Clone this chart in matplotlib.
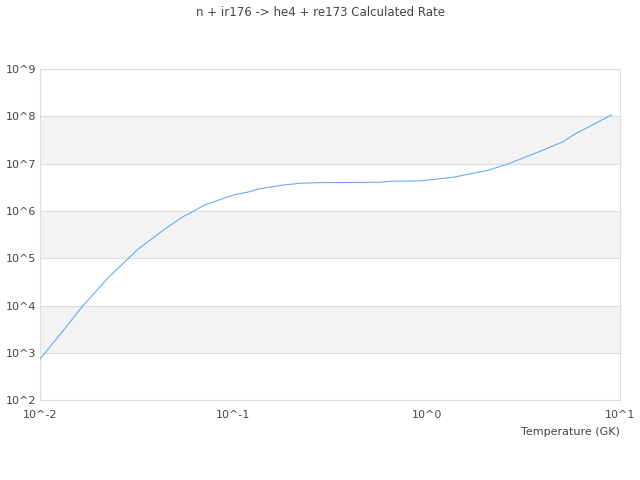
import matplotlib
matplotlib.use("Agg")
import matplotlib.pyplot as plt

# values (temperature in GK, rate)
temperature = [0.01, 0.01285, 0.01663, 0.02239, 0.03206, 0.04487, 0.05495,
               0.0631, 0.07112, 0.08166, 0.1, 0.1216, 0.1318, 0.1811,
               0.2208, 0.2805, 0.5728, 0.6457, 0.9247, 1.374, 2.042, 2.642,
               3.707, 5.082, 5.728, 9.036]
rate = [746, 2610, 9860, 38000, 156000, 434000, 762000, 1.023e6, 1.349e6,
        1.637e6, 2.188e6, 2.57e6, 2.88e6, 3.55e6, 3.87e6, 3.98e6, 4.07e6,
        4.27e6, 4.34e6, 5.20e6, 7.16e6, 9.93e6, 1.72e7, 2.94e7, 4.07e7,
        1.08e8]

x_ticks = [0.01, 0.1, 1, 10]
x_labels = ["10^-2", "10^-1", "10^0", "10^1"]
y_exps = list(range(2, 10))
y_labels = ["10^%d" % e for e in y_exps]

title = "n + ir176 -> he4 + re173 Calculated Rate"
text_color = "#444444"
grid_color = "#dddddd"

fig = plt.figure(figsize=(6.4, 4.8), dpi=100)
ax = fig.add_axes([0.0625, 0.166, 0.9065, 0.69])

ax.set_xscale("log")
ax.set_yscale("log")
ax.set_xlim(0.01, 10)
ax.set_ylim(1e2, 1e9)

# alternating bands
for e in y_exps[1:-1:2]:
    ax.axhspan(10 ** e, 10 ** (e + 1), color="#f3f3f3", zorder=0, lw=0)
for e in y_exps:
    ax.axhline(10 ** e, color=grid_color, lw=0.8, zorder=1)

ax.plot(temperature, rate, color="#5fa8f0", lw=0.75, zorder=3)

ax.set_xticks(x_ticks)
ax.set_xticklabels(x_labels)
ax.set_yticks([10 ** e for e in y_exps])
ax.set_yticklabels(y_labels)
ax.minorticks_off()
ax.tick_params(length=0, labelsize=8, colors=text_color, pad=7)
ax.tick_params(axis="y", pad=3)

for s in ax.spines.values():
    s.set_color(grid_color)
    s.set_linewidth(0.8)

ax.set_xlabel("Temperature (GK)", fontsize=8, color=text_color, loc="right",
              labelpad=5)
fig.text(0.5, 0.975, title, ha="center", va="center", fontsize=8.5,
         color=text_color)

fig.savefig("out.png", dpi=100)
